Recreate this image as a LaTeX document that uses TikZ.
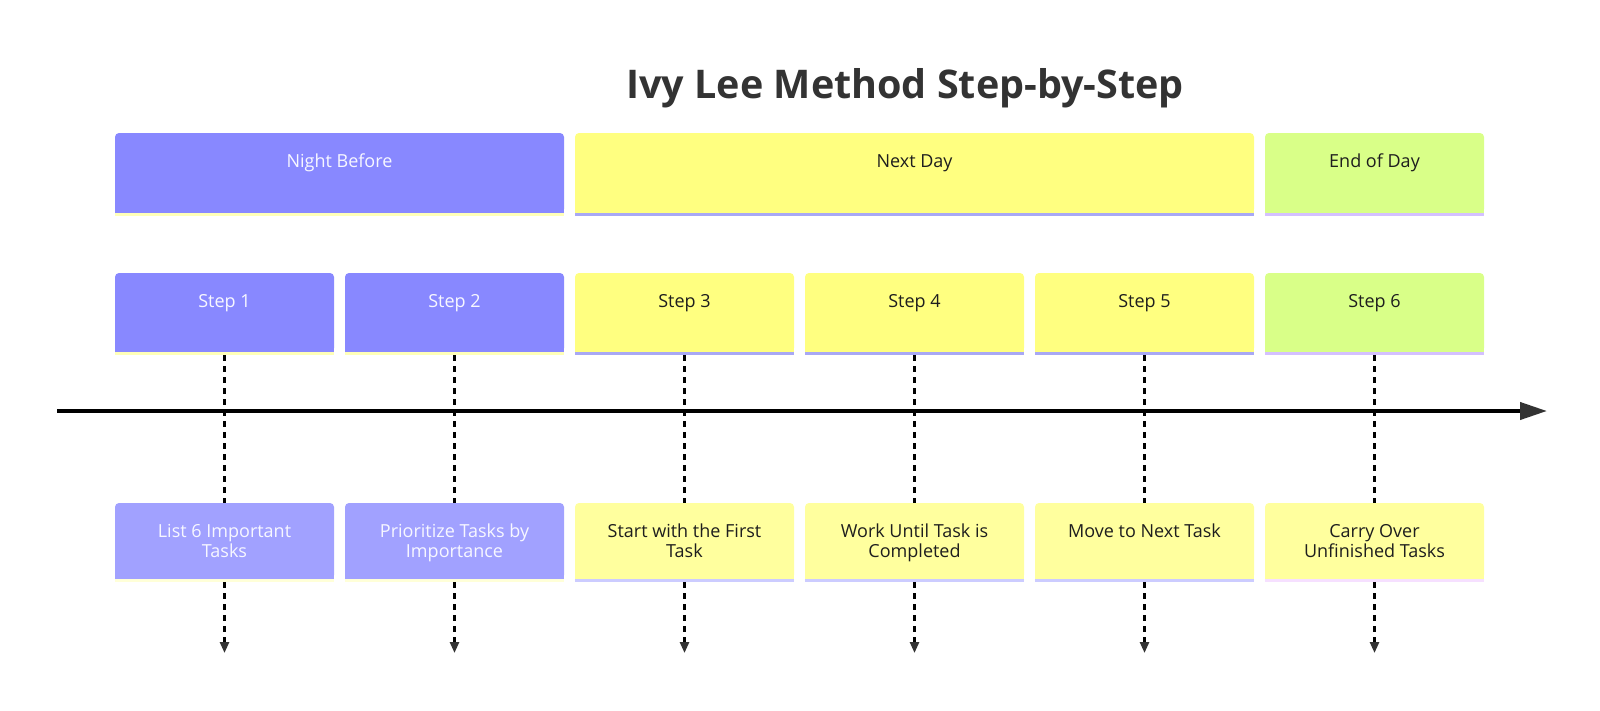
\documentclass[tikz,border=0pt]{standalone}
\usepackage{fontspec}
\setmainfont{Open Sans}
\usetikzlibrary{arrows.meta}
\definecolor{pD}{HTML}{8888FF}
\definecolor{pL}{HTML}{A1A1FF}
\definecolor{yD}{HTML}{FFFF80}
\definecolor{yL}{HTML}{FFFF9E}
\definecolor{gD}{HTML}{D9FF88}
\definecolor{stY}{HTML}{FFFFB8}
\definecolor{stYL}{HTML}{FFFFD8}
\definecolor{stP}{HTML}{A8A8F5}
\definecolor{stPL}{HTML}{CCCCFF}
\definecolor{stG}{HTML}{D4C0FF}
\definecolor{stPk}{HTML}{F6E0FF}
\definecolor{txtW}{HTML}{F7F7FF}
\definecolor{txtD}{HTML}{1E1E1E}
\definecolor{ttl}{HTML}{333333}
\definecolor{ar}{HTML}{333333}
\tikzset{
  boxbase/.style={inner sep=0pt, outer sep=0pt, rounded corners=4pt, draw=none},
  lbl/.style={inner sep=0pt, anchor=base, font=\fontsize{18}{20}\selectfont},
  lbltwo/.style={inner sep=0pt, anchor=center, align=center, text depth=5pt, font=\fontsize{18}{20}\selectfont},
  dashline/.style={draw=black, line width=2.5pt, dash pattern=on 6pt off 5pt},
  dasharrow/.style={dashline, -{Triangle[width=9pt,length=11pt,color=ar]}},
  timeline/.style={draw=black, line width=4pt, -{Triangle[width=17pt,length=27pt,color=ar]}}
}
% name, left, top, width, height, fill, strip
\newcommand\ivybox[7]{%
  \node[boxbase, fill=#6, minimum width=#4pt, minimum height=#5pt, anchor=north west] (#1) at (#2,#3) {};
  \fill[#6] (#1.west) rectangle (#1.south east);
  \fill[#7] (#1.south west) rectangle ([yshift=-3pt]#1.south east);
}
\begin{document}
\begin{tikzpicture}[x=1pt,y=-1pt]
\useasboundingbox[fill=white] (0,0) rectangle (1600,710);
% title
\node[inner sep=0pt, anchor=base, text=ttl, font=\fontsize{39.5}{46}\selectfont\bfseries] (title) at (905,98) {Ivy Lee Method Step-by-Step};
% section boxes
\ivybox{secA}{115}{133}{449}{80}{pD}{stY}
\ivybox{secB}{575}{133}{679}{80}{yD}{stP}
\ivybox{secC}{1265}{133}{219}{80}{gD}{stG}
\node[lbl, text=txtW] (secAt) at ([yshift=-34.5pt]secA.north) {Night Before};
\node[lbl, text=txtD] (secBt) at ([yshift=-34.5pt]secB.north) {Next Day};
\node[lbl, text=txtD] (secCt) at ([yshift=-34.5pt]secC.north) {End of Day};
% step boxes
\ivybox{s1}{115}{273}{219}{79}{pD}{stY}
\ivybox{s2}{345}{273}{219}{79}{pD}{stY}
\ivybox{s3}{575}{273}{219}{79}{yD}{stP}
\ivybox{s4}{805}{273}{219}{79}{yD}{stP}
\ivybox{s5}{1035}{273}{219}{79}{yD}{stP}
\ivybox{s6}{1265}{273}{219}{79}{gD}{stG}
\node[lbl, text=txtW] (s1t) at ([yshift=-34pt]s1.north) {Step 1};
\node[lbl, text=txtW] (s2t) at ([yshift=-34pt]s2.north) {Step 2};
\node[lbl, text=txtD] (s3t) at ([yshift=-34pt]s3.north) {Step 3};
\node[lbl, text=txtD] (s4t) at ([yshift=-34pt]s4.north) {Step 4};
\node[lbl, text=txtD] (s5t) at ([yshift=-34pt]s5.north) {Step 5};
\node[lbl, text=txtD] (s6t) at ([yshift=-34pt]s6.north) {Step 6};
% description boxes
\ivybox{d1}{115}{503}{219}{76}{pL}{stYL}
\ivybox{d2}{345}{503}{219}{76}{pL}{stYL}
\ivybox{d3}{575}{503}{219}{76}{yL}{stPL}
\ivybox{d4}{805}{503}{219}{76}{yL}{stPL}
\ivybox{d5}{1035}{503}{219}{76}{yL}{stPL}
\ivybox{d6}{1265}{503}{219}{76}{yL}{stPk}
\node[lbltwo, text=txtW] (d1t) at ([yshift=-2.5pt]d1.center) {List 6 Important\\Tasks};
\node[lbltwo, text=txtW] (d2t) at ([yshift=-2.5pt]d2.center) {Prioritize Tasks by\\Importance};
\node[lbltwo, text=txtD] (d3t) at ([yshift=-2.5pt]d3.center) {Start with the First\\Task};
\node[lbltwo, text=txtD] (d4t) at ([yshift=-2.5pt]d4.center) {Work Until Task is\\Completed};
\node[lbltwo, text=txtD] (d5t) at ([yshift=-2.5pt]d5.center) {Move to Next Task\\\strut};
\node[lbltwo, text=txtD] (d6t) at ([yshift=-2.5pt]d6.center) {Carry Over\\Unfinished Tasks};
% connectors
\foreach \i in {1,...,6}{
  \coordinate (e\i) at ([yshift=-74pt]d\i.south);
  \draw[dashline] ([yshift=-3pt]s\i.south) -- (d\i.north);
  \draw[dasharrow] ([yshift=-3pt]d\i.south) -- (e\i);
}
% timeline
\coordinate (tlA) at (57,411);
\coordinate (tlB) at (1547,411);
\draw[timeline] (tlA) -- (tlB);
\end{tikzpicture}
\end{document}
